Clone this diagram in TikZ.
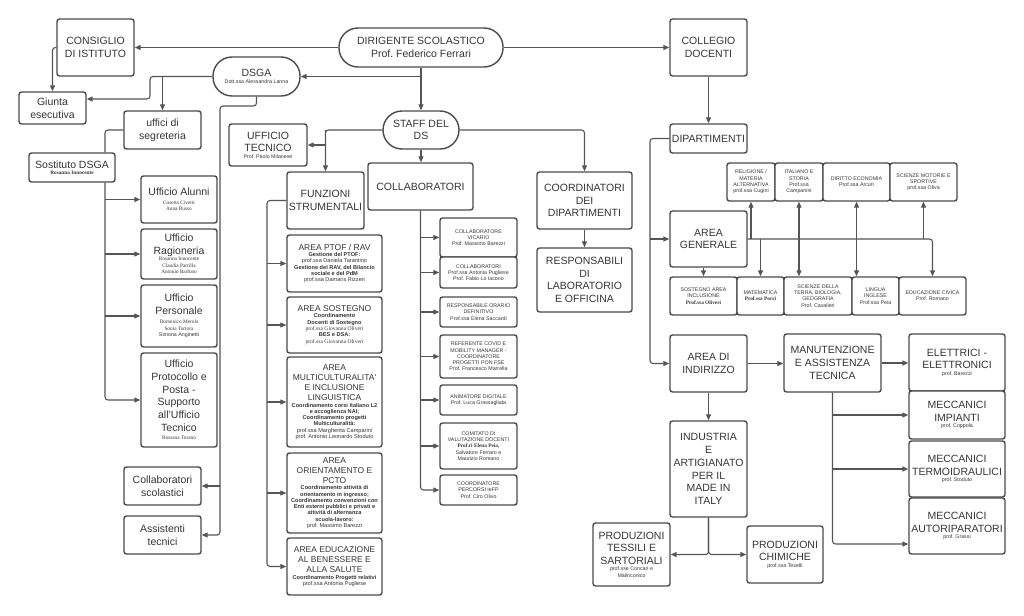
\documentclass[tikz,border=0pt]{standalone}
\usepackage{fontspec}
\setmainfont{Liberation Sans}
\newfontfamily\nmserif{Liberation Serif}
\usetikzlibrary{arrows.meta}
\definecolor{linec}{HTML}{555555}
\definecolor{boxc}{HTML}{4A4A4A}
\definecolor{textc}{HTML}{363636}
\newcommand\fBig{\fontsize{10.5}{12.7}\selectfont}
\newcommand\fArea{\fontsize{8.5}{10.2}\selectfont}
\newcommand\fSm{\fontsize{5.3}{6.3}\selectfont}
\newcommand\fFs{\fontsize{5.6}{6.3}\selectfont}
\setlength\parindent{0pt}
\frenchspacing
\tikzset{
 bx/.style={draw=boxc, line width=1.4pt, rounded corners=2.5pt, fill=white, text=textc, align=flush center, inner xsep=0pt, inner ysep=1pt, font=\fBig},
 wh/.style 2 args={minimum width=#1pt, minimum height=#2pt, text width=#1pt},
 conn/.style={draw=linec, line width=1.1pt},
 arr/.style={conn, -{Triangle[length=6pt,width=5pt]}},
 dbl/.style={conn, {Triangle[length=6pt,width=5pt]}-{Triangle[length=6pt,width=5pt]}},
}
\begin{document}
\begin{tikzpicture}[x=1pt,y=-1pt]
\useasboundingbox[fill=white] (0,0) rectangle (1024,615);

% left part
\node[bx,wh={77}{57}] (cons) at (95.5,47.5) {CONSIGLIO\\DI ISTITUTO};
\node[bx,wh={67}{32}] (giunta) at (52.5,108) {Giunta\\esecutiva};
\node[bx,wh={87}{39},rounded corners=19pt] (dsga) at (256.5,76.5) {DSGA\par{\fSm Dott.ssa Alessandra Lanna\par}};
\node[bx,wh={164}{39},rounded corners=19pt] (ds) at (421,47.5) {DIRIGENTE SCOLASTICO\\Prof. Federico Ferrari};
\node[bx,wh={77}{38}] (uff) at (162.5,130) {uffici di\\segreteria};
\node[bx,wh={86}{29}] (sost) at (72,167.5) {Sostituto DSGA\par{\fSm\nmserif\bfseries Rosanna Innocente\par}};
\node[bx,wh={76}{47}] (alunni) at (179,199.5) {Ufficio Alunni\par\vspace{2pt}{\fSm\nmserif Cosetta Civetti\\Anna Russo\par}};
\node[bx,wh={76}{50}] (ragio) at (179,254) {Ufficio\\Ragioneria\par{\fSm\nmserif Rosanna Innocente\\Claudia Parrilla\\Antonio Barbato\par}};
\node[bx,wh={76}{62}] (pers) at (179,316) {Ufficio\\Personale\par\vspace{3pt}{\fSm{\nmserif Domenico Merola\\Sonia Tortora}\\Simona Anginetti\par}};
\node[bx,wh={76}{94}] (proto) at (179,400) {Ufficio\\Protocollo e\\Posta -\\Supporto\\all'Ufficio\\Tecnico\par\vspace{2pt}{\fSm\nmserif Rossana Torano\par}};
\node[bx,wh={77}{38}] (colsc) at (162.5,486) {Collaboratori\\scolastici};
\node[bx,wh={77}{38}] (assist) at (162.5,535) {Assistenti\\tecnici};

% staff
\node[bx,wh={78}{42}] (ufftec) at (268,145) {UFFICIO\\TECNICO\par{\fSm Prof. Paolo Milanese\par}};
\node[bx,wh={76}{38},rounded corners=19pt] (staff) at (421,130) {STAFF DEL\\DS};
\node[bx,wh={77}{57}] (funz) at (325.5,200.5) {FUNZIONI\\STRUMENTALI};
\node[bx,wh={95}{57}] (ptof) at (334.5,263.5) {{\fArea AREA PTOF / RAV\par}{\fFs\textbf{Gestione del PTOF:}\\prof.ssa Daniela Tarantino\\\textbf{Gestione del RAV, del Bilancio}\\\textbf{sociale e del PdM}\\prof.ssa Damaris Rizzeri\par}};
\node[bx,wh={95}{56}] (sost2) at (334.5,325) {{\fArea AREA SOSTEGNO\par}{\fFs\textbf{Coordinamento}\\\textbf{Docenti di Sostegno}\\{\nmserif prof.ssa Giovanna Oliveri}\\\textbf{BES e DSA:}\\{\nmserif prof.ssa Giovanna Oliveri}\par}};
\node[bx,wh={95}{90}] (multi) at (334.5,402) {{\fArea AREA\\MULTICULTURALITA\textquotesingle\\E INCLUSIONE\\LINGUISTICA\par}{\fFs\textbf{Coordinamento corsi Italiano L2}\\\textbf{e accoglienza NAI;}\\\textbf{Coordinamento progetti}\\\textbf{Multiculturalità:}\\prof.ssa Margherita Camparini\\prof. Antonio Leonardo Stoduto\par}};
\node[bx,wh={95}{80}] (orient) at (334.5,493) {{\fArea AREA\\ORIENTAMENTO E\\PCTO\par}{\fFs\textbf{Coordinamento attività di}\\\textbf{orientamento in ingresso;}\\\textbf{Coordinamento convenzioni con}\\\textbf{Enti esterni pubblici e privati e}\\\textbf{attività di alternanza}\\\textbf{scuola-lavoro:}\\prof. Massimo Barezzi\par}};
\node[bx,wh={95}{57}] (educ) at (334.5,566.5) {{\fArea AREA EDUCAZIONE\\AL BENESSERE E\\ALLA SALUTE\par}{\fFs\textbf{Coordinamento Progetti relativi}\\prof.ssa Antonia Pugliese\par}};

\node[bx,wh={105}{47}] (collab) at (420.5,186.5) {COLLABORATORI};
\node[bx,wh={77}{39},font=\fSm] (vic) at (478.5,237.5) {COLLABORATORE\\VICARIO\\Prof. Massimo Barezzi};
\node[bx,wh={77}{31},font=\fSm] (col2) at (478.5,272.5) {COLLABORATORI\\Prof.ssa Antonia Pugliese\\Prof. Fabio Lo Iacono};
\node[bx,wh={77}{30},font=\fSm] (orario) at (478.5,312) {RESPONSABILE ORARIO\\DEFINITIVO\\Prof.ssa Elena Saccardi};
\node[bx,wh={77}{43},font=\fSm] (covid) at (478.5,356.5) {REFERENTE COVID E\\MOBILITY MANAGER -\\COORDINATORE\\PROGETTI PON FSE\\Prof. Francesco Marrella};
\node[bx,wh={77}{30},font=\fSm] (anim) at (478.5,400) {ANIMATORE DIGITALE\\Prof. Luca Grassagliata};
\node[bx,wh={77}{46},font=\fSm] (comit) at (478.5,446) {COMITATO DI\\VALUTAZIONE DOCENTI\\{\nmserif\bfseries Prof.ri Elena Peia,}\\Salvatore Ferraro e\\Maurizio Romano};
\node[bx,wh={77}{30},font=\fSm] (perc) at (478.5,490) {COORDINATORE\\PERCORSI IeFP\\Prof. Ciro Olivo};

\node[bx,wh={95}{57}] (coord) at (584.5,200.5) {COORDINATORI\\DEI\\DIPARTIMENTI};
\node[bx,wh={95}{64}] (resp) at (584.5,280) {RESPONSABILI\\DI\\LABORATORIO\\E OFFICINA};

% right part
\node[bx,wh={77}{57}] (colleg) at (708.5,47.5) {COLLEGIO\\DOCENTI};
\node[bx,wh={77}{29}] (dip) at (708.5,138.5) {DIPARTIMENTI};
\node[bx,wh={48}{38},font=\fSm] (relig) at (751,182) {RELIGIONE /\\MATERIA\\ALTERNATIVA\\prof.ssa Cugini};
\node[bx,wh={48}{38},font=\fSm] (ital) at (799,182) {ITALIANO E\\STORIA\\Prof.ssa\\Campanini};
\node[bx,wh={67}{38},font=\fSm] (dir) at (856.5,182) {DIRITTO ECONOMIA\\Prof.ssa Arcuri};
\node[bx,wh={67}{38},font=\fSm] (scimot) at (923.5,182) {SCIENZE MOTORIE E\\SPORTIVE\\prof.ssa Oliva};
\node[bx,wh={77}{56}] (agen) at (708.5,239) {AREA\\GENERALE};
\node[bx,wh={67}{38},font=\fSm] (sosta) at (703.5,296) {SOSTEGNO AREA\\INCLUSIONE\\{\nmserif\bfseries Prof.ssa Oliveri}};
\node[bx,wh={47}{38},font=\fSm] (mate) at (760.5,296) {MATEMATICA\\{\nmserif\bfseries Prof.ssa Porri}};
\node[bx,wh={68}{38},font=\fSm] (sciter) at (818,296) {SCIENZE DELLA\\TERRA, BIOLOGIA,\\GEOGRAFIA\\Prof. Cavalieri};
\node[bx,wh={47}{38},font=\fSm] (ling) at (875.5,296) {LINGUA\\INGLESE\\Prof.ssa Peia};
\node[bx,wh={67}{38},font=\fSm] (edciv) at (932.5,296) {EDUCAZIONE CIVICA\\Prof. Romano};

\node[bx,wh={77}{57}] (aind) at (708.5,363.5) {AREA DI\\INDIRIZZO};
\node[bx,wh={97}{58}] (manut) at (832.5,363) {MANUTENZIONE\\E ASSISTENZA\\TECNICA};
\node[bx,wh={96}{57}] (elet) at (957,362.5) {ELETTRICI -\\ELETTRONICI\par{\fSm prof. Barezzi\par}};
\node[bx,wh={96}{48}] (imp) at (957,415) {MECCANICI\\IMPIANTI\par{\fSm prof. Coppola\par}};
\node[bx,wh={96}{56}] (termo) at (957,469) {MECCANICI\\TERMOIDRAULICI\par{\fSm prof. Stoduto\par}};
\node[bx,wh={96}{56}] (autor) at (957,526) {MECCANICI\\AUTORIPARATORI\par{\fSm prof. Grassi\par}};
\node[bx,wh={77}{96}] (indu) at (708.5,469) {INDUSTRIA\\E\\ARTIGIANATO\\PER IL\\MADE IN\\ITALY};
\node[bx,wh={77}{63}] (tess) at (631.5,554.5) {PRODUZIONI\\TESSILI E\\SARTORIALI\par{\fSm prof.sse Concari e\\Malinconico\par}};
\node[bx,wh={76}{57}] (chim) at (785,554.5) {PRODUZIONI\\CHIMICHE\par{\fSm prof.ssa Teselli\par}};

% connectors
\coordinate (g1) at (150,76.5);
\coordinate (d1) at (220,106);
\coordinate (s1) at (105,0);
\coordinate (f1) at (267,0);
\coordinate (r1) at (650,0);

\draw[arr] (ds.west) -- (cons.east);
\draw[arr] (ds.east) -- (colleg.west);
\draw[arr,rounded corners=3pt] (cons.west) -| (giunta.north);
\draw[arr] (ds.south) -- (staff.north);
\draw[arr] (ds.south |- dsga.east) -- (dsga.east);
\draw[arr,rounded corners=3pt] (dsga.west) -| ([yshift=9pt]giunta.east -| g1) -- ([yshift=9pt]giunta.east);
\draw[arr] (dsga.west -| uff.north) -- (uff.north);
\draw[arr,rounded corners=3pt] (dsga.south) |- (d1) |- (assist.east);
\draw[arr] (d1 |- colsc.east) -- (colsc.east);

\draw[conn,rounded corners=3pt] (uff.west) -| (sost.north -| s1);
\draw[arr,rounded corners=3pt] (sost.south -| s1) |- (proto.west);
\draw[arr] (s1 |- alunni.west) -- (alunni.west);
\draw[arr] (s1 |- ragio.west) -- (ragio.west);
\draw[arr] (s1 |- pers.west) -- (pers.west);

\draw[arr,rounded corners=3pt] (staff.west) -| (funz.north);
\draw[arr] (staff.west -| funz.north) |- (ufftec.east);
\draw[arr] (staff.south) -- (staff.south |- collab.north);
\draw[arr,rounded corners=3pt] (staff.east) -| (coord.north);
\draw[arr] (coord) -- (resp);

\draw[arr,rounded corners=3pt] (funz.west) -| (f1 |- educ.west) -- (educ.west);
\draw[arr] (f1 |- ptof.west) -- (ptof.west);
\draw[arr] (f1 |- sost2.west) -- (sost2.west);
\draw[arr] (f1 |- multi.west) -- (multi.west);
\draw[arr] (f1 |- orient.west) -- (orient.west);

\draw[arr,rounded corners=3pt] (collab.south) |- (perc.west);
\draw[arr] (collab.south |- vic.west) -- (vic.west);
\draw[arr] (collab.south |- col2.west) -- (col2.west);
\draw[arr] (collab.south |- orario.west) -- (orario.west);
\draw[arr] (collab.south |- covid.west) -- (covid.west);
\draw[arr] (collab.south |- anim.west) -- (anim.west);
\draw[arr] (collab.south |- comit.west) -- (comit.west);

\draw[arr] (colleg) -- (dip);
\draw[arr,rounded corners=3pt] (dip.west) -| (r1 |- aind.west) -- (aind.west);
\draw[arr] (r1 |- agen.west) -- (agen.west);
\draw[arr,rounded corners=3pt] (agen.east) -| (edciv.north);
\draw[arr] (agen.east -| relig.south) -- (relig.south);
\draw[arr] (agen.east -| scimot.south) -- (scimot.south);
\draw[arr] (agen.east -| mate.north) -- (mate.north);
\draw[dbl] (ital.south) -- (ital.south |- sciter.north);
\draw[dbl] (dir.south) -- (dir.south |- ling.north);
\draw[arr] (agen.south -| sosta.north) -- (sosta.north);

\draw[arr] (aind.east) -- (aind.east -| manut.west);
\draw[arr] (manut.east) -- (manut.east -| elet.west);
\draw[arr,rounded corners=3pt] (manut.south) |- ([yshift=-18pt]autor.west);
\draw[arr] (manut.south |- imp.west) -- (imp.west);
\draw[arr] (manut.south |- termo.west) -- (termo.west);
\draw[arr] (aind) -- (indu);
\draw[arr,rounded corners=3pt] (indu.south) |- (tess.east);
\draw[arr,rounded corners=3pt] (indu.south) |- (chim.west);
\end{tikzpicture}
\end{document}
